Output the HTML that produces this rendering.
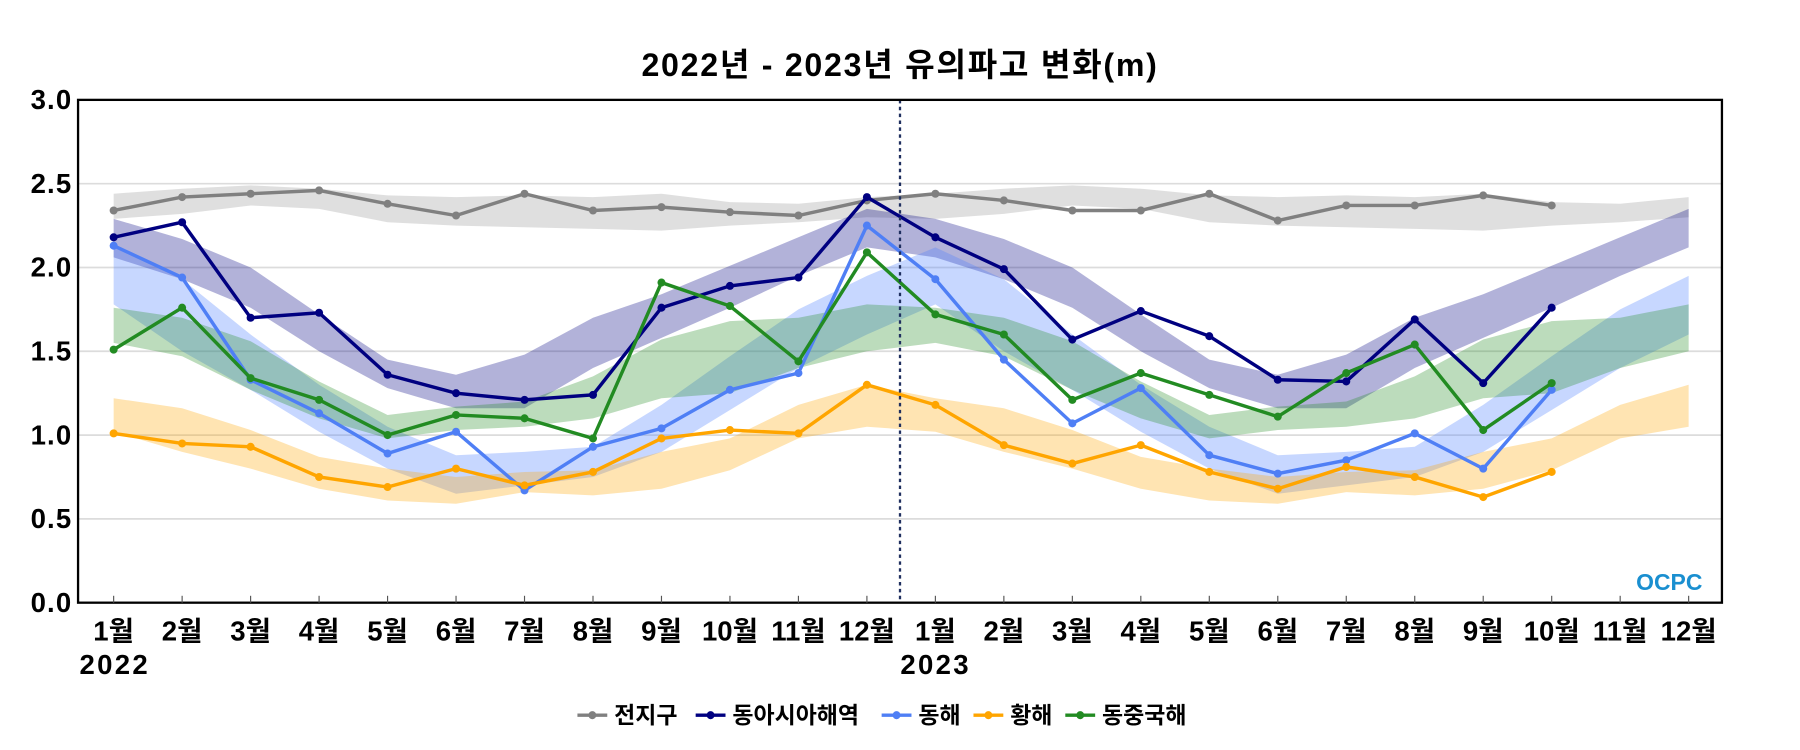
<!DOCTYPE html>
<html><head><meta charset="utf-8"><style>
body{margin:0;background:#fff;}
svg{display:block;font-family:"Liberation Sans","Noto Sans CJK KR",sans-serif;}
</style></head><body>
<svg id="chart" width="1800" height="750" viewBox="0 0 1568 653.33" xmlns="http://www.w3.org/2000/svg">
<text x="784" y="66" text-anchor="middle" font-size="28" font-weight="bold" letter-spacing="1.5">2022년 - 2023년 유의파고 변화(m)</text>
<g id="grid"></g><g id="bands"></g><g id="lines"></g><g id="axes"></g>
<text x="1483" y="514" text-anchor="end" font-size="20" font-weight="bold" fill="#1a8fd0">OCPC</text>
<g id="legend"></g>
</svg>
<script>
const months = ["1월","2월","3월","4월","5월","6월","7월","8월","9월","10월","11월","12월"];
const yTicks = [0,0.5,1.0,1.5,2.0,2.5,3.0];
const seriesNames = ["전지구","동아시아해역","동해","황해","동중국해"];
const seriesColors = ["#808080","#000080","#4f7ff5","#ffa500","#228b22"];
const bandColors = ["rgba(170,170,170,0.38)","rgba(0,0,128,0.3)","rgba(80,130,255,0.32)","rgba(255,165,0,0.3)","rgba(34,139,34,0.3)"];
const globalVals = [2.34,2.42,2.44,2.46,2.38,2.31,2.44,2.34,2.36,2.33,2.31,2.40,2.44,2.40,2.34,2.34,2.44,2.28,2.37,2.37,2.43,2.37];
const eastAsiaVals = [2.18,2.27,1.70,1.73,1.36,1.25,1.21,1.24,1.76,1.89,1.94,2.42,2.18,1.99,1.57,1.74,1.59,1.33,1.32,1.69,1.31,1.76];
const eastSeaVals = [2.13,1.94,1.33,1.13,0.89,1.02,0.67,0.93,1.04,1.27,1.37,2.25,1.93,1.45,1.07,1.28,0.88,0.77,0.85,1.01,0.80,1.27];
const yellowSeaVals = [1.01,0.95,0.93,0.75,0.69,0.80,0.70,0.78,0.98,1.03,1.01,1.30,1.18,0.94,0.83,0.94,0.78,0.68,0.81,0.75,0.63,0.78];
const eastChinaVals = [1.51,1.76,1.34,1.21,1.00,1.12,1.10,0.98,1.91,1.77,1.44,2.09,1.72,1.60,1.21,1.37,1.24,1.11,1.37,1.54,1.03,1.31];
const globalLow = [2.29,2.32,2.37,2.35,2.27,2.25,2.24,2.23,2.22,2.25,2.27,2.30];
const globalHigh = [2.44,2.47,2.49,2.47,2.43,2.42,2.43,2.42,2.44,2.39,2.38,2.42];
const eastAsiaLow = [2.06,1.93,1.76,1.50,1.28,1.16,1.16,1.40,1.58,1.76,1.95,2.12];
const eastAsiaHigh = [2.29,2.17,2.00,1.72,1.45,1.36,1.48,1.70,1.84,2.01,2.18,2.35];
const eastSeaLow = [1.78,1.50,1.27,1.02,0.80,0.65,0.70,0.75,0.90,1.15,1.40,1.60];
const eastSeaHigh = [2.12,1.93,1.60,1.30,1.05,0.88,0.90,0.93,1.18,1.47,1.75,1.95];
const yellowSeaLow = [1.02,0.90,0.80,0.68,0.61,0.59,0.66,0.64,0.68,0.79,0.98,1.05];
const yellowSeaHigh = [1.22,1.16,1.03,0.87,0.80,0.75,0.78,0.79,0.90,0.98,1.18,1.30];
const eastChinaLow = [1.55,1.47,1.27,1.10,0.98,1.03,1.05,1.10,1.22,1.25,1.40,1.50];
const eastChinaHigh = [1.76,1.70,1.56,1.32,1.12,1.17,1.20,1.35,1.57,1.68,1.70,1.78];

const NS="http://www.w3.org/2000/svg";
const L=68,R=1500,T=87,B=525;
const x0=99,dx=(1471-99)/23;
function xs(i){return x0+i*dx;}
function ys(v){return B-(v-0)/(3-0)*(B-T);}
function mk(tag,attrs,parent){const e=document.createElementNS(NS,tag);for(const k in attrs)e.setAttribute(k,attrs[k]);parent.appendChild(e);return e;}
const grid=document.getElementById('grid'),bands=document.getElementById('bands'),lines=document.getElementById('lines'),axes=document.getElementById('axes'),legend=document.getElementById('legend');
yTicks.forEach(v=>{
  if(v>0&&v<3){const g=mk('line',{x1:L,x2:R,y1:ys(v),y2:ys(v),stroke:'#dcdcdc','stroke-width':1.5},grid);
  
  }
  const t=mk('text',{x:L-5,y:ys(v)+8,'text-anchor':'end','font-size':24,'font-weight':'bold','letter-spacing':1},axes);
  t.textContent=v.toFixed(1);
  
  
});
const lows=[globalLow,eastAsiaLow,eastSeaLow,yellowSeaLow,eastChinaLow];
const highs=[globalHigh,eastAsiaHigh,eastSeaHigh,yellowSeaHigh,eastChinaHigh];
const vals=[globalVals,eastAsiaVals,eastSeaVals,yellowSeaVals,eastChinaVals];
lows.forEach((lo,s)=>{
  const hi=highs[s];let top=[],bot=[];
  for(let i=0;i<24;i++){top.push(xs(i)+','+ys(hi[i%12]));bot.unshift(xs(i)+','+ys(lo[i%12]));}
  const p=mk('polygon',{points:top.concat(bot).join(' '),fill:bandColors[s]},bands);
  
  
});
vals.forEach((arr,s)=>{
  const pts=arr.map((v,i)=>xs(i)+','+ys(v)).join(' ');
  const pl=mk('polyline',{points:pts,fill:'none',stroke:seriesColors[s],'stroke-width':3},lines);
  
  
  arr.forEach((v,i)=>{const c=mk('circle',{cx:xs(i),cy:ys(v),r:3.5,fill:seriesColors[s]},lines);
    
    });
});
const dv=mk('line',{x1:784,x2:784,y1:T,y2:B,stroke:'#1f2f5f','stroke-width':2,'stroke-dasharray':'3,3'},axes);


const fr=mk('rect',{x:L,y:T,width:R-L,height:B-T,fill:'none',stroke:'#000','stroke-width':2},axes);


for(let i=0;i<24;i++){
  const tk=mk('line',{x1:xs(i),x2:xs(i),y1:B,y2:B-6,stroke:'#555','stroke-width':1},axes);
  
  
  const t=mk('text',{x:xs(i),y:558,'text-anchor':'middle','font-size':24,'font-weight':'bold'},axes);
  t.textContent=months[i%12];
  
  
}
[["2022",100],["2023",815]].forEach(([y,x])=>{const t=mk('text',{x:x,y:587,'text-anchor':'middle','font-size':24,'font-weight':'bold','letter-spacing':2},axes);t.textContent=y;
  
  });
let lx=503;
const lw=[103,162,80,80,110];
seriesNames.forEach((n,s)=>{
  const g=mk('g',{},legend);
  
  
  mk('line',{x1:lx,x2:lx+26,y1:623,y2:623,stroke:seriesColors[s],'stroke-width':3},g);
  mk('circle',{cx:lx+13,cy:623,r:3.5,fill:seriesColors[s]},g);
  const t=mk('text',{x:lx+32,y:630,'font-size':20,'font-weight':'bold'},g);t.textContent=n;
  lx+=lw[s];
});
</script>
</body></html>
